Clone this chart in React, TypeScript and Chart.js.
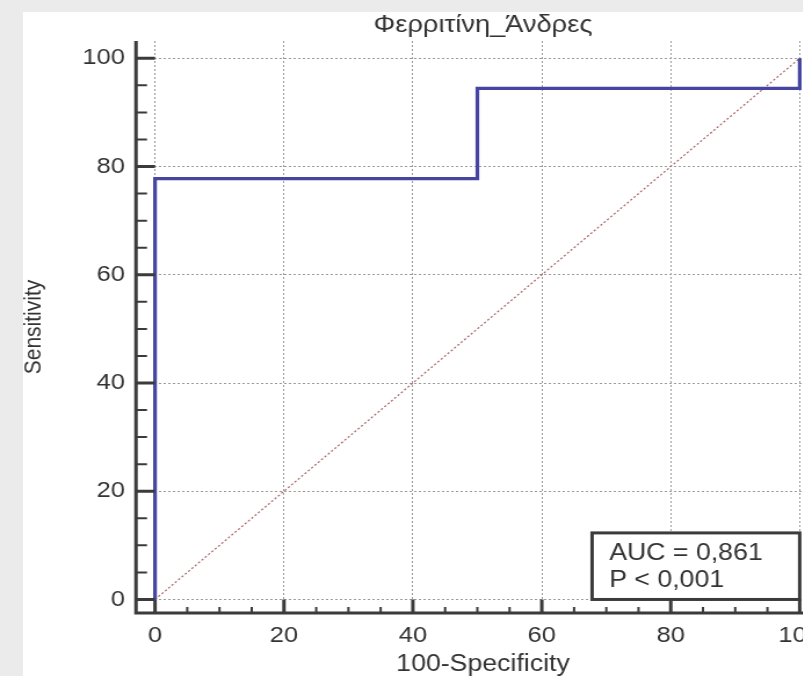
import React, { useEffect, useRef } from "react";
import { Chart, registerables } from "chart.js";

Chart.register(...registerables);

// ---- data ----
const chartTitle = "Φερριτίνη_Άνδρες";
const xAxisTitle = "100-Specificity";
const yAxisTitle = "Sensitivity";
const rocX = [0, 0, 50, 50, 100, 100];
const rocY = [0, 77.78, 77.78, 94.44, 94.44, 100];
const refX = [0, 100];
const refY = [0, 100];
const majorTicks = [0, 20, 40, 60, 80, 100];
const minorTicks = [5, 10, 15, 25, 30, 35, 45, 50, 55, 65, 70, 75, 85, 90, 95];
const statLines = ["AUC = 0,861", "P < 0,001"];

// ---- style ----
const FONT = '"Liberation Sans", Arial, sans-serif';
const AXIS_COLOR = "#3b3b3b";
const TEXT_COLOR = "#333333";
const ROC_COLOR = "#4646a2";
const DIAG_COLOR = "#a86464";
const GRID_COLOR = "#9a9a9a";
const STRETCH = 1.16; // horizontal stretch of the whole drawing

const axesPlugin = {
  id: "rocAxes",
  afterDatasetsDraw(chart: any) {
    const { ctx, chartArea: a } = chart;
    const xs = chart.scales.x;
    const ys = chart.scales.y;
    const x0 = xs.getPixelForValue(0);
    const y0 = ys.getPixelForValue(0);
    ctx.save();

    // statistics box (anchored to the lower-right of the plot)
    const bl = xs.getPixelForValue(67.8);
    const br = xs.getPixelForValue(100);
    const bt = ys.getPixelForValue(12.3);
    const bb = y0;
    ctx.fillStyle = "#ffffff";
    ctx.fillRect(bl, bt, br - bl, bb - bt);
    ctx.strokeStyle = AXIS_COLOR;
    ctx.lineWidth = 3;
    ctx.strokeRect(bl, bt, br - bl, bb - bt);
    ctx.fillStyle = TEXT_COLOR;
    ctx.font = `23px ${FONT}`;
    ctx.textBaseline = "middle";
    ctx.textAlign = "left";
    statLines.forEach((t, i) => ctx.fillText(t, bl + 14.7, bt + 21 + i * 27));

    // axis lines
    ctx.strokeStyle = AXIS_COLOR;
    ctx.lineWidth = 3;
    ctx.beginPath();
    ctx.moveTo(a.left, a.top);
    ctx.lineTo(a.left, a.bottom);
    ctx.lineTo(a.right, a.bottom);
    ctx.stroke();

    // major ticks
    ctx.lineWidth = 3;
    ctx.beginPath();
    majorTicks.forEach((v) => {
      const py = ys.getPixelForValue(v);
      ctx.moveTo(a.left, py);
      ctx.lineTo(x0, py);
      const px = xs.getPixelForValue(v);
      ctx.moveTo(px, a.bottom);
      ctx.lineTo(px, y0);
    });
    ctx.stroke();

    // minor ticks
    ctx.lineWidth = 2;
    ctx.beginPath();
    minorTicks.forEach((v) => {
      const py = ys.getPixelForValue(v);
      ctx.moveTo(a.left, py);
      ctx.lineTo(a.left + 9.5, py);
      const px = xs.getPixelForValue(v);
      ctx.moveTo(px, a.bottom);
      ctx.lineTo(px, a.bottom - 6);
    });
    ctx.stroke();
    ctx.restore();
  },
};

export default function App() {
  const ref = useRef<HTMLCanvasElement | null>(null);

  useEffect(() => {
    if (!ref.current) return;
    const setTicks = (s: any) => {
      s.ticks = majorTicks.map((v) => ({ value: v }));
    };
    const chart = new Chart(ref.current, {
      type: "line",
      data: {
        datasets: [
          {
            label: "ROC",
            data: rocX.map((x, i) => ({ x, y: rocY[i] })),
            borderColor: ROC_COLOR,
            borderWidth: 3.2,
            pointRadius: 0,
            tension: 0,
            fill: false,
          },
          {
            label: "Reference",
            data: refX.map((x, i) => ({ x, y: refY[i] })),
            borderColor: DIAG_COLOR,
            borderWidth: 1.2,
            borderDash: [2, 2],
            pointRadius: 0,
            fill: false,
          },
        ],
      },
      options: {
        responsive: false,
        animation: false,
        devicePixelRatio: 1,
        layout: { padding: { left: 0, top: 0, right: 29.5, bottom: 20 } },
        plugins: {
          legend: { display: false },
          tooltip: { enabled: false },
          title: {
            display: true,
            text: chartTitle,
            fullSize: false,
            color: TEXT_COLOR,
            font: { family: FONT, size: 23.5, weight: "normal" },
            padding: { top: 11.9, bottom: 0.9 },
          },
        },
        scales: {
          x: {
            type: "linear",
            min: -2.95,
            max: 104.7,
            afterBuildTicks: setTicks,
            afterFit: (s: any) => {
              s.height = 67;
            },
            ticks: {
              autoSkip: false,
              maxRotation: 0,
              padding: 9.8,
              color: TEXT_COLOR,
              font: { family: FONT, size: 22 },
            },
            grid: { color: GRID_COLOR, lineWidth: 1, drawTicks: false },
            border: { display: false, dash: [2, 2] },
            title: {
              display: true,
              text: xAxisTitle,
              color: TEXT_COLOR,
              font: { family: FONT, size: 23 },
              padding: { top: 0, bottom: 2 },
            },
          },
          y: {
            type: "linear",
            min: -2.5,
            max: 103.2,
            afterBuildTicks: setTicks,
            afterFit: (s: any) => {
              s.width = 117.24;
            },
            ticks: {
              autoSkip: false,
              padding: 9.5,
              color: TEXT_COLOR,
              font: { family: FONT, size: 22 },
            },
            grid: { color: GRID_COLOR, lineWidth: 1, drawTicks: false },
            border: { display: false, dash: [2, 2] },
            title: {
              display: true,
              text: yAxisTitle,
              color: TEXT_COLOR,
              font: { family: FONT, size: 21 },
              padding: { top: 16.3, bottom: 0 },
            },
          },
        },
      },
      plugins: [axesPlugin],
    } as any);
    return () => chart.destroy();
  }, []);

  return (
    <div
      style={{
        position: "fixed",
        left: 0,
        top: 0,
        width: 803,
        height: 676,
        overflow: "hidden",
        background: "#ebebeb",
      }}
    >
      <div
        style={{
          position: "absolute",
          left: 23,
          top: 12,
          width: 900,
          height: 700,
          background: "#ffffff",
        }}
      />
      <div
        style={{
          position: "absolute",
          left: 0,
          top: 0,
          transform: `scaleX(${STRETCH})`,
          transformOrigin: "0 0",
        }}
      >
        <canvas
          ref={ref}
          width={745}
          height={700}
          style={{ display: "block", width: 745, height: 700 }}
        />
      </div>
    </div>
  );
}
